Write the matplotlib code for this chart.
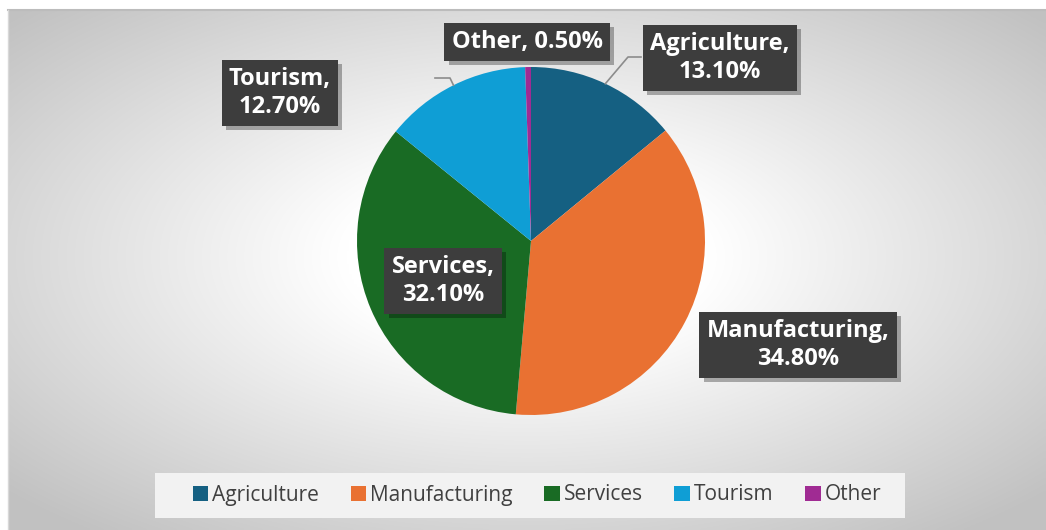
import numpy as np
import matplotlib.pyplot as plt
from matplotlib.patches import Rectangle
import matplotlib.patheffects as pe

# sector shares (%)
sectors = ['Agriculture', 'Manufacturing', 'Services', 'Tourism', 'Other']
shares = [13.1, 34.8, 32.1, 12.7, 0.5]
colors = ['#156082', '#E97132', '#196B24', '#0F9ED5', '#A02B93']

W, H = 1046, 530
fig = plt.figure(figsize=(W / 100, H / 100), dpi=100)
ax = fig.add_axes([0, 0, 1, 1])

# chart area with radial grey gradient
x0, y0, x1, y1 = 8, 0, W, H - 10
xx, yy = np.meshgrid(np.linspace(-1, 1, 400), np.linspace(-1, 1, 200))
r = np.sqrt(xx ** 2 + (yy - 0.05) ** 2)
shade = 1.0 - 0.24 * np.clip((r - 0.35) / 1.0, 0, 1)
ax.imshow(np.dstack([shade] * 3), extent=(x0, x1, y0, y1), origin='lower',
          interpolation='bilinear', zorder=0)
ax.plot([x0, x1], [y1, y1], color='#bcbcbc', lw=1.5, zorder=1)
ax.plot([x0, x0], [y0, y1], color='#d8d8d8', lw=1, zorder=1)

cx, cy, rad = 531, H - 241, 174
wedges, _ = ax.pie(shares, colors=colors, startangle=90, counterclock=False,
                   center=(cx, cy), radius=rad, frame=True,
                   wedgeprops=dict(linewidth=0))
ax.set_xlim(0, W)
ax.set_ylim(0, H)
ax.set_aspect('equal')
ax.axis('off')

# data labels: (x, y) centre of label box in pixels
label_pos = {
    'Other': (527, H - 42),
    'Agriculture': (720, H - 58),
    'Tourism': (280, H - 93),
    'Services': (443, H - 281),
    'Manufacturing': (798, H - 345),
}
for name, val in zip(sectors, shares):
    txt = f'{name}, {val:.2f}%' if name == 'Other' else f'{name},\n{val:.2f}%'
    x, y = label_pos[name]
    t = ax.text(x, y, txt, ha='center', va='center', color='white',
                fontsize=17, fontweight='bold', family='Open Sans',
                linespacing=1.22, zorder=5,
                bbox=dict(boxstyle='square,pad=0.3', fc='#3d3d3d', ec='none'))
    t.get_bbox_patch().set_path_effects([
        pe.SimplePatchShadow(offset=(3, -3), shadow_rgbFace='#000000', alpha=0.3),
        pe.Normal()])

# leader lines from the middle of the outer arc
ang_total = np.cumsum([0] + shares) / sum(shares) * 360
def edge_point(i, frac=0.5):
    a = np.deg2rad(90 - (ang_total[i] + frac * (ang_total[i + 1] - ang_total[i])))
    return cx + rad * np.cos(a), cy + rad * np.sin(a)

px, py = edge_point(0)
ax.plot([px, 628, 641], [py, H - 57, H - 57], color='#8c8c8c', lw=1.2, zorder=4)
px, py = edge_point(3)
ax.plot([px, 450, 435], [py, H - 78, H - 78], color='#8c8c8c', lw=1.2, zorder=4)

# legend
ax.add_patch(Rectangle((155, H - 518), 750, 45, fc='#f2f2f2', ec='none', zorder=3))
leg = ax.legend(wedges, sectors, loc='center', bbox_to_anchor=(537 / W, 1 - 495 / H),
                ncol=5, frameon=False, handlelength=0.75, handleheight=0.75,
                handletextpad=0.2, columnspacing=1.5,
                prop={'family': 'Open Sans', 'size': 15})
for txt in leg.get_texts():
    txt.set_color('#404040')

fig.savefig('out.png', dpi=100, facecolor='white')
